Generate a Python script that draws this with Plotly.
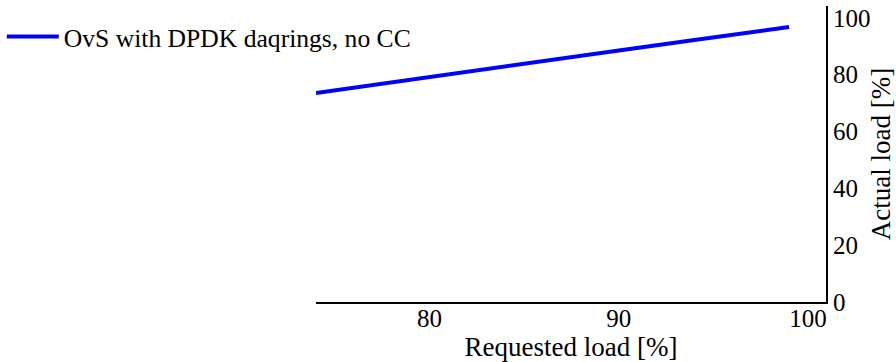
import plotly.graph_objects as go

requested = [74, 78, 82, 86, 90, 94, 99]
actual = [73.6, 77.4, 81.1, 84.8, 88.5, 92.2, 96.8]
series_name = "OvS with DPDK daqrings, no CC"
x_ticks = [80, 90, 100]
y_ticks = [0, 20, 40, 60, 80, 100]

FONT = "Liberation Serif"

fig = go.Figure()
fig.add_trace(go.Scatter(x=requested, y=actual, mode="lines", name=series_name,
                         line=dict(color="#0000ff", width=4)))

fig.update_layout(
    width=896, height=362,
    margin=dict(l=316, r=70, t=6, b=60, autoexpand=False),
    paper_bgcolor="white", plot_bgcolor="white",
    font=dict(family=FONT, size=25, color="black"),
    showlegend=True,
    legend=dict(xref="container", x=0.002, y=0.975, xanchor="left", yanchor="top",
                bgcolor="rgba(0,0,0,0)", font=dict(family=FONT, size=25.6),
                itemwidth=52),
    xaxis=dict(range=[74, 100.95], tickvals=x_ticks, showgrid=False, zeroline=False,
               showline=True, linecolor="black", linewidth=2, ticks="",
               ticklabelstandoff=-7,
               tickfont=dict(family=FONT, size=25),
               title=dict(text="Requested load [%]", font=dict(family=FONT, size=27), standoff=8)),
    xaxis2=dict(range=[74, 100.95], tickvals=x_ticks, overlaying="x", side="top",
                showgrid=False, zeroline=False, showline=False, ticks="inside",
                ticklen=2, tickcolor="#888", showticklabels=False, anchor="y"),
    yaxis=dict(range=[0, 104.2], tickvals=y_ticks, side="right", showgrid=False,
               zeroline=False, showline=True, linecolor="black", linewidth=2, ticks="",
               tickfont=dict(family=FONT, size=25),
               title=dict(text="Actual load [%]", font=dict(family=FONT, size=27), standoff=7)),
)

fig.write_html("out.html")
